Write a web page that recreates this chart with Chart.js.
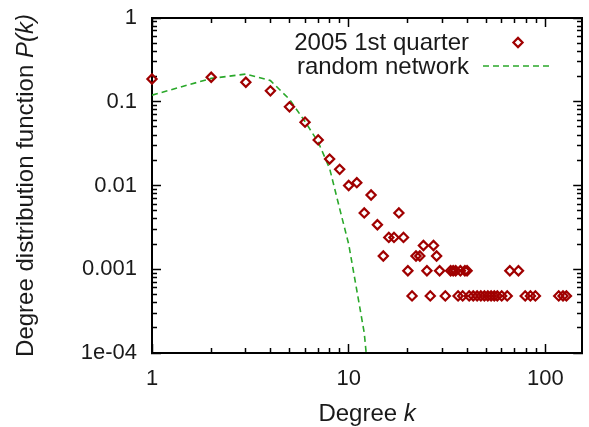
<!DOCTYPE html>
<html>
<head>
<meta charset="utf-8">
<script src="https://cdn.jsdelivr.net/npm/chart.js@4/dist/chart.umd.min.js"></script>
<style>
  html, body { margin: 0; padding: 0; background: #fff; }
  #wrap { width: 589px; height: 427px; }
</style>
</head>
<body>
<div id="wrap"><canvas id="degreeChart" width="589" height="427"></canvas></div>
<script>
// measured degree distribution, 2005 1st quarter
var degreeK = [1, 2, 3, 4, 5, 6, 7, 8, 9, 10, 11, 12, 13, 14, 15, 16, 17, 18, 19, 20,
  21, 22, 23, 24, 25, 26, 27, 28, 29, 31, 33, 34, 35, 36, 37, 38, 39, 40,
  41, 43, 45, 47, 49, 51, 53, 55, 57, 60, 64, 66, 73, 79, 84, 89, 117, 123, 128]
var degreeP = [0.187, 0.196, 0.171, 0.135, 0.087, 0.057, 0.035, 0.0207, 0.0156, 0.0100,
  0.0108, 0.0047, 0.0077, 0.0034, 0.00144, 0.0024, 0.0024, 0.0047, 0.0024, 0.00096,
  0.00048, 0.00144, 0.00144, 0.00192, 0.00096, 0.00048, 0.00192, 0.00144, 0.00096, 0.00048,
  0.00096, 0.00096, 0.00096, 0.00048, 0.00096, 0.00048, 0.00096, 0.00096,
  0.00048, 0.00048, 0.00048, 0.00048, 0.00048, 0.00048, 0.00048, 0.00048, 0.00048, 0.00048,
  0.00048, 0.00096, 0.00096, 0.00048, 0.00048, 0.00048, 0.00048, 0.00048, 0.00048]

var randomK = [1, 2, 3, 4, 5, 6, 7, 8, 9, 10, 11, 12, 13]
var randomP = [0.12, 0.19, 0.214, 0.179, 0.107, 0.058, 0.033, 0.016, 0.0053, 0.002, 0.00056, 0.000174, 0.000025]

var seriesNames = ['2005 1st quarter', 'random network']
var xTicks = [1, 10, 100]
var xTickLabels = ['1', '10', '100']
var yTicks = [0.0001, 0.001, 0.01, 0.1, 1]
var yTickLabels = ['1e-04', '0.001', '0.01', '0.1', '1']

var FONT = '"Liberation Sans", Arial, Helvetica, sans-serif'
var INK = '#1a1a1a'
var FRAME = '#000000'
var RED = '#a00000'
var GREEN = '#2aa82a'

function points(xs, ys){
  return xs.map(function(x, i){ return { x: x, y: ys[i] } })
}

// 1..9 x 10^n values inside [min, max], used for the minor tick marks
function logSteps(min, max){
  var out = []
  var e0 = Math.floor(Math.log10(min) + 1e-9)
  for (var e = e0; e < 6 && Math.pow(10, e) <= max * 1.0001; e++) {
    for (var m = 1; m <= 9; m++) {
      var v = m * Math.pow(10, e)
      if (v >= min * 0.9999 && v <= max * 1.0001) out.push(v)
    }
  }
  return out
}

function findTick(list, v){
  for (var i = 0; i < list.length; i++) {
    if (Math.abs(Math.log10(list[i]) - Math.log10(v)) < 1e-6) return i
  }
  return -1
}

// gnuplot box: inward ticks (negative tickLength), minor ones cut short by a dash
function frameAxis(position, majors, labels, lo, hi, size, towardBorder){
  var horiz = position === 'top' || position === 'bottom'
  var showLabels = !!labels
  return {
    type: 'logarithmic',
    position: position,
    min: lo,
    max: hi,
    grid: {
      display: true,
      drawOnChartArea: false,
      drawTicks: true,
      tickLength: -9,
      tickWidth: 1.5,
      tickColor: FRAME,
      tickBorderDash: function(c){
        if (!c.tick || findTick(majors, c.tick.value) >= 0) return []
        return towardBorder ? [0, 4, 10, 100] : [6, 100]
      }
    },
    border: { display: true, color: FRAME, width: 2 },
    afterBuildTicks: function(s){ s.ticks = logSteps(lo, hi).map(function(v){ return { value: v } }) },
    afterFit: function(s){
      if (horiz) s.height = size; else s.width = size
      // labels may hang over the box edge, do not let them shrink the plot
      s.paddingTop = 0; s.paddingBottom = 0; s.paddingLeft = 0; s.paddingRight = 0
    },
    ticks: {
      display: showLabels,
      autoSkip: false,
      maxRotation: 0,
      padding: horiz ? 22 : 24,
      color: INK,
      font: { family: FONT, size: 22 },
      callback: function(v){
        var i = findTick(majors, v)
        return showLabels && i >= 0 ? labels[i] : ''
      }
    }
  }
}

function drawMixed(ctx, parts, size, cx, baseline){
  var widths = parts.map(function(p){
    ctx.font = (p[1] ? 'italic ' : '') + size + 'px ' + FONT
    return ctx.measureText(p[0]).width
  })
  var total = widths.reduce(function(s, w){ return s + w }, 0)
  var x = cx - total / 2
  ctx.textAlign = 'left'
  ctx.textBaseline = 'alphabetic'
  parts.forEach(function(p, i){
    ctx.font = (p[1] ? 'italic ' : '') + size + 'px ' + FONT
    ctx.fillText(p[0], x, baseline)
    x += widths[i]
  })
}

// axis titles with the italic symbols
function drawTitles(chart){
  var ctx = chart.ctx, a = chart.chartArea
  ctx.save()
  ctx.fillStyle = INK
  drawMixed(ctx, [['Degree ', false], ['k', true]], 24, (a.left + a.right) / 2, 421)
  ctx.translate(33, (a.top + a.bottom) / 2)
  ctx.rotate(-Math.PI / 2)
  drawMixed(ctx, [['Degree distribution function ', false], ['P(k)', true]], 24, 0, 0)
  ctx.restore()
}

// key in the top right corner: text right aligned, symbol after it
function drawKey(chart){
  var ctx = chart.ctx
  ctx.save()
  chart.data.datasets.forEach(function(ds, i){
    var base = 50 + i * 23.5
    ctx.font = '24px ' + FONT
    ctx.fillStyle = INK
    ctx.textAlign = 'right'
    ctx.textBaseline = 'alphabetic'
    ctx.fillText(ds.label, 469, base)
    ctx.strokeStyle = ds.borderColor
    ctx.lineWidth = ds.borderWidth
    if (ds.showLine) {
      ctx.setLineDash(ds.borderDash)
      ctx.beginPath()
      ctx.moveTo(483, base - 7.5); ctx.lineTo(553, base - 7.5)
      ctx.stroke()
      ctx.setLineDash([])
    } else {
      var r = ds.pointRadius, cx = 518, cy = base - 7.5
      ctx.beginPath()
      ctx.moveTo(cx - r, cy); ctx.lineTo(cx, cy - r); ctx.lineTo(cx + r, cy); ctx.lineTo(cx, cy + r)
      ctx.closePath()
      ctx.stroke()
    }
  })
  ctx.restore()
}

var decorPlugin = {
  id: 'decor',
  afterDraw: function(chart){
    drawTitles(chart)
    drawKey(chart)
  }
}

var chart = new Chart(document.getElementById('degreeChart'), {
  type: 'scatter',
  data: {
    datasets: [{
      label: seriesNames[0],
      data: points(degreeK, degreeP),
      showLine: false,
      pointStyle: 'rectRot',
      pointRadius: 4.6,
      borderWidth: 2.2,
      borderColor: RED,
      backgroundColor: 'rgba(0,0,0,0)',
      clip: false
    }, {
      label: seriesNames[1],
      data: points(randomK, randomP),
      showLine: true,
      pointRadius: 0,
      borderWidth: 1.6,
      borderDash: [6, 4],
      borderColor: GREEN,
      backgroundColor: GREEN,
      tension: 0
    }]
  },
  options: {
    responsive: false,
    devicePixelRatio: 1,
    animation: false,
    events: [],
    layout: { padding: 0 },
    plugins: { legend: { display: false }, tooltip: { enabled: false } },
    scales: {
      x: frameAxis('bottom', xTicks, xTickLabels, 1, 154, 74, false),
      x2: frameAxis('top', xTicks, null, 1, 154, 18, true),
      y: frameAxis('left', yTicks, yTickLabels, 0.0001, 1, 152, true),
      y2: frameAxis('right', yTicks, null, 0.0001, 1, 6, false)
    }
  },
  plugins: [decorPlugin]
})
</script>
</body>
</html>
